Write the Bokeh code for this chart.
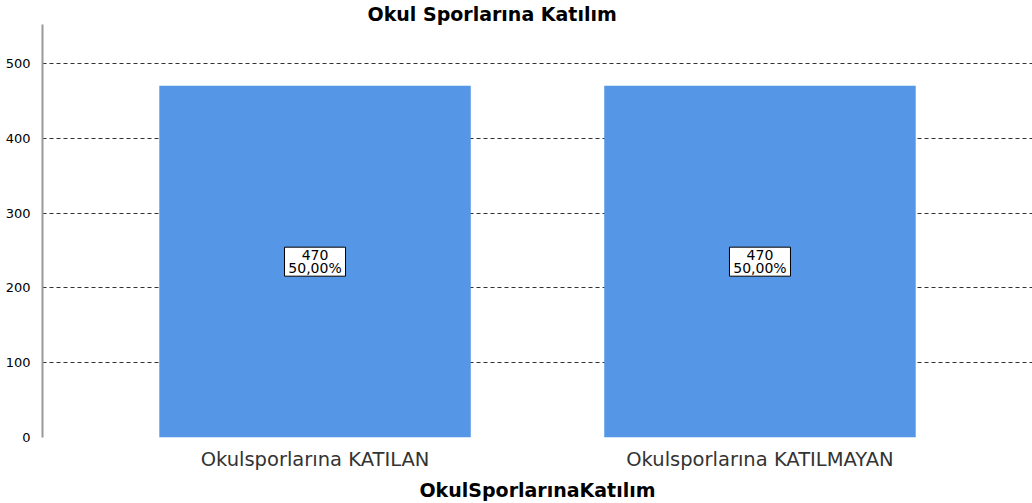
from bokeh.plotting import figure
from bokeh.models import ColumnDataSource, FixedTicker, Range1d
from bokeh.embed import file_html
from bokeh.resources import INLINE
from bokeh.core.properties import value

categories = ["Okulsporlarına KATILAN", "Okulsporlarına KATILMAYAN"]
counts = [470, 470]
percents = ["50,00%", "50,00%"]
y_ticks = [0, 100, 200, 300, 400, 500]

labels = [f"{c}\n{p}" for c, p in zip(counts, percents)]
mids = [c / 2 for c in counts]
src = ColumnDataSource(dict(cat=categories, count=counts, mid=mids, label=labels))

FONT = "DejaVu Sans"

p = figure(x_range=categories, width=1032, height=503, output_backend="svg",
           toolbar_location=None, title="Okul Sporlarına Katılım",
           min_border_left=42, min_border_right=0, min_border_top=22, min_border_bottom=0)
p.x_range.range_padding = 0.1125
p.x_range.range_padding_units = "absolute"
p.y_range = Range1d(0, 552)

p.vbar(x="cat", top="count", width=0.70, source=src, color="#5596E6", line_color=None)

p.rect(x="cat", y="mid", width=61, height=29, width_units="screen", height_units="screen",
       source=src, fill_color="white", line_color="black", line_width=1)
p.text(x="cat", y="mid", text="label", source=src, text_align="center", text_baseline="middle",
       text_font=value(FONT), text_font_size="14px", text_color="#000000", text_line_height=0.82)

p.title.text_font = FONT
p.title.text_font_size = "19px"
p.title.text_font_style = "bold"
p.title.text_color = "#000000"
p.title.align = "left"
p.title.offset = 325
p.title.standoff = 0

p.outline_line_color = None
p.xgrid.grid_line_color = None
p.ygrid.grid_line_color = "#333333"
p.ygrid.grid_line_dash = "4 3"
p.ygrid.grid_line_width = 1
p.yaxis.ticker = FixedTicker(ticks=y_ticks)

p.yaxis.axis_line_color = "#999999"
p.yaxis.axis_line_width = 2
p.yaxis.major_tick_line_color = None
p.yaxis.minor_tick_line_color = None
p.yaxis.major_label_text_font = FONT
p.yaxis.major_label_text_font_size = "13px"
p.yaxis.major_label_text_color = "#000000"
p.yaxis.major_label_standoff = 6

p.xaxis.axis_line_color = None
p.xaxis.major_tick_line_color = None
p.xaxis.minor_tick_line_color = None
p.xaxis.major_label_text_font = FONT
p.xaxis.major_label_text_font_size = "19.5px"
p.xaxis.major_label_text_color = "#333333"
p.xaxis.major_label_standoff = 4
p.xaxis.axis_label = "OkulSporlarınaKatılım"
p.xaxis.axis_label_text_font = FONT
p.xaxis.axis_label_text_font_size = "19px"
p.xaxis.axis_label_text_font_style = "bold"
p.xaxis.axis_label_text_color = "#000000"
p.xaxis.axis_label_standoff = 5

open("out.html", "w").write(file_html(p, INLINE))
